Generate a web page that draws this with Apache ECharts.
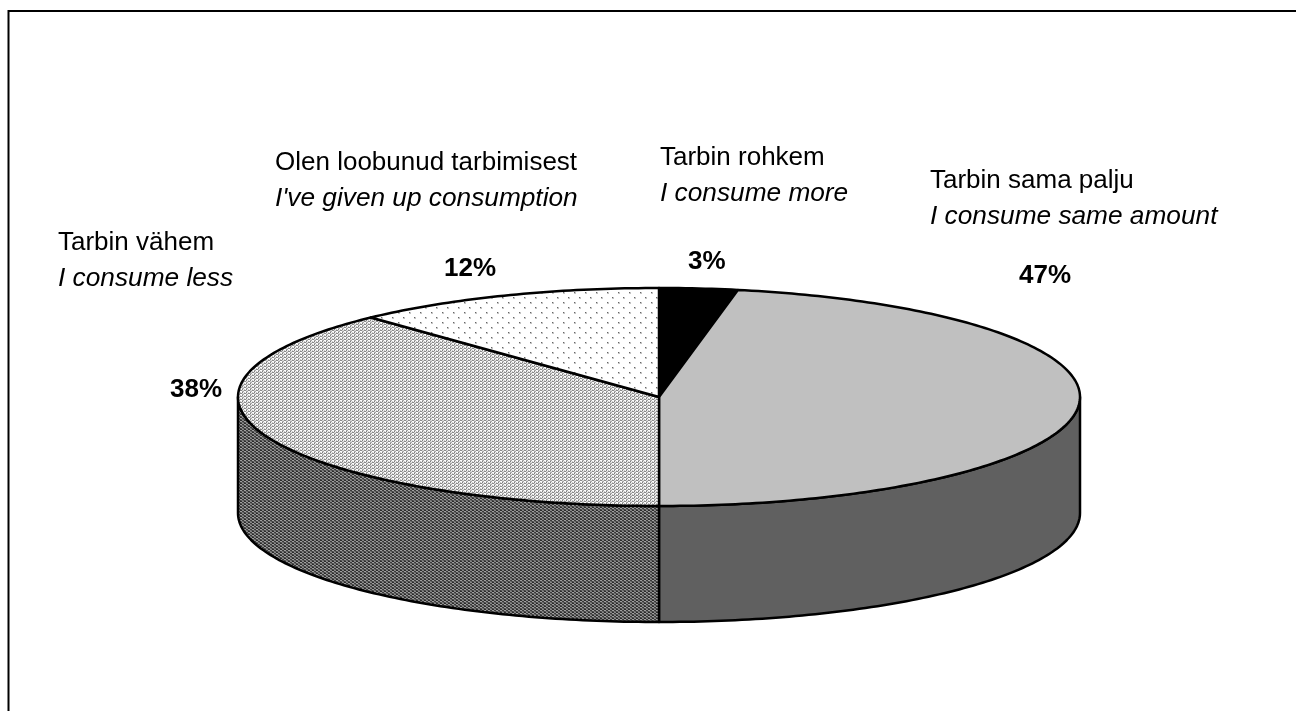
<!DOCTYPE html>
<html><head><meta charset="utf-8">
<style>html,body{margin:0;padding:0;background:#fff}#c{width:1296px;height:711px}</style>
<script src="https://cdn.jsdelivr.net/npm/echarts@6/dist/echarts.min.js"></script>
</head><body><div id="c"></div>
<script>
const categories = ['Tarbin rohkem','Tarbin sama palju','Tarbin vähem','Olen loobunud tarbimisest'];
const englishLabels = ['I consume more','I consume same amount','I consume less',"I've given up consumption"];
const shares = [3,47,38,12];

const CX=659, CY=397, RX=421, RY=109, DEPTH=116;
const FONT='"Liberation Sans", Arial, sans-serif';

function tile(w,h,bg,dots){
  const c=document.createElement('canvas');c.width=w;c.height=h;
  const g=c.getContext('2d');g.fillStyle=bg;g.fillRect(0,0,w,h);
  dots.forEach(d=>{g.fillStyle=d[2];g.fillRect(d[0],d[1],d[3]||1,d[4]||1);});
  return {type:'pattern',image:c,repeat:'repeat'};
}
const sparse=tile(11,10,'#ffffff',[[2,2,'#c4c4c4',2,2],[7,7,'#c4c4c4',2,2],[2,2,'#666',1,1],[7,7,'#666',1,1]]);
const lightDots=tile(4,3,'#f4f4f4',[[0,0,'#8a8a8a',2,1],[2,0,'#d8d8d8',2,1],[0,1,'#ffffff',2,1],[2,1,'#a8a8a8',2,1],[0,2,'#c8c8c8',1,1],[2,2,'#808080',1,1]]);
const darkDots=tile(4,3,'#5c5c5c',[[0,0,'#2c2c2c',2,1],[2,0,'#888888',2,1],[0,1,'#a0a0a0',2,1],[2,1,'#3a3a3a',2,1],[0,2,'#444',1,1],[2,2,'#777',1,1]]);
const topFills=['#000000','#c0c0c0',lightDots,sparse];
const sideFills=[null,'#606060',darkDots,null];

const total=shares.reduce((a,b)=>a+b,0);
function pt(a,dy){return [CX+RX*Math.sin(a),CY+(dy||0)-RY*Math.cos(a)];}
function arc(a0,a1,dy){const n=Math.max(2,Math.ceil((a1-a0)*60));const o=[];for(let i=0;i<=n;i++)o.push(pt(a0+(a1-a0)*i/n,dy));return o;}
const stroke={stroke:'#000',lineWidth:2.5,lineJoin:'round'};

function renderItem(params,api){
  const i=params.dataIndex;
  let before=0;for(let k=0;k<i;k++)before+=shares[k];
  const a0=before/total*2*Math.PI, a1=(before+api.value(0))/total*2*Math.PI;
  const kids=[];
  const s0=Math.max(a0,Math.PI/2), s1=Math.min(a1,Math.PI*1.5);
  if(s1>s0 && sideFills[i]){
    const top=arc(s0,s1,0), bot=arc(s0,s1,DEPTH).reverse();
    kids.push({type:'polygon',shape:{points:top.concat(bot)},style:Object.assign({fill:sideFills[i]},stroke)});
  }
  kids.push({type:'polygon',shape:{points:[[CX,CY]].concat(arc(a0,a1,0))},style:Object.assign({fill:topFills[i]},stroke)});
  return {type:'group',children:kids};
}

const FS=26, FI=26.25;
function labelText(x,y,t,style){return {type:'text',left:x,top:y,silent:true,style:Object.assign({text:t,fill:'#000',font:FS+'px '+FONT},style||{})};}
const namePos=[[660,145],[930,168],[58,230],[275,150]];
const pctPos=[[688,249],[1019,263],[170,377],[444,256]];
const graphic=[{type:'rect',shape:{x:8.5,y:11,width:1400,height:800},style:{fill:'none',stroke:'#000',lineWidth:2},silent:true}];
categories.forEach((c,i)=>{
  graphic.push(labelText(namePos[i][0],namePos[i][1],c));
  graphic.push(labelText(namePos[i][0],namePos[i][1]+36,englishLabels[i],{font:'italic '+FI+'px '+FONT}));
  graphic.push(labelText(pctPos[i][0],pctPos[i][1],shares[i]+'%',{font:'bold '+FS+'px '+FONT}));
});

const chart=echarts.init(document.getElementById('c'),null,{renderer:'canvas'});
chart.setOption({
  animation:false,
  backgroundColor:'#fff',
  series:[{type:'custom',coordinateSystem:'none',renderItem:renderItem,data:shares.map(v=>[v]),silent:true}],
  graphic:graphic
});
</script></body></html>
